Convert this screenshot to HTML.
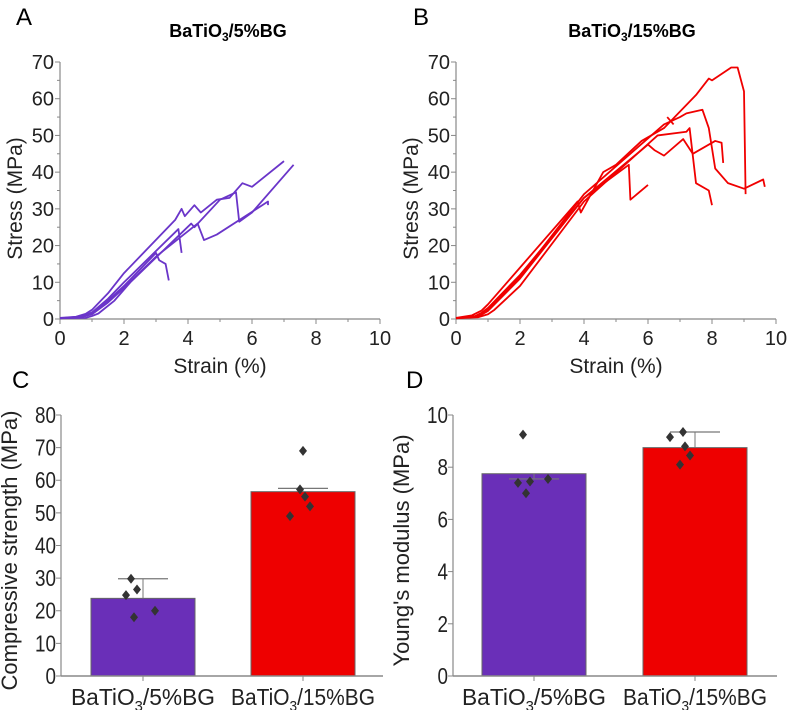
<!DOCTYPE html>
<html><head><meta charset="utf-8"><style>
body{margin:0;background:#fff}
svg{display:block;font-family:"Liberation Sans",sans-serif}
</style></head><body>
<svg id="fig" width="789" height="710" viewBox="0 0 789 710" xmlns="http://www.w3.org/2000/svg">
<text x="16" y="25" font-size="24">A</text>
<text x="413" y="25" font-size="24">B</text>
<text x="12" y="388" font-size="24">C</text>
<text x="406" y="388" font-size="24">D</text>
<text x="228" y="37" font-size="18" font-weight="bold" text-anchor="middle">BaTiO<tspan font-size="12" dy="4">3</tspan><tspan dy="-4">/5%BG</tspan></text>
<text x="632" y="37" font-size="18" font-weight="bold" text-anchor="middle">BaTiO<tspan font-size="12" dy="4">3</tspan><tspan dy="-4">/15%BG</tspan></text>
<g id="g"></g>
</svg>
<script>
// Panel A/B data (strain %, stress MPa)
const curvesA = [
 [[0,0.3],[0.5,0.6],[0.8,1.4],[1,2.5],[1.5,7],[2,12.5],[3.6,27],[3.8,30],[3.9,28],[4.2,31],[4.4,29],[4.9,32.5],[5.3,33],[5.7,37],[6.0,36],[7.0,43]],
 [[0,0.2],[0.6,0.6],[0.8,1.1],[1,1.8],[1.5,5.5],[2,10],[3.7,24.5],[3.8,18]],
 [[0,0.2],[0.6,0.5],[0.8,0.9],[1,1.5],[1.5,5],[2,9],[3.0,18],[3.1,16],[3.3,15],[3.4,10.5]],
 [[0,0.2],[0.6,0.4],[0.8,0.8],[1,1.3],[1.5,4.5],[2,8.5],[3.0,17],[4.3,26],[4.5,21.5],[4.9,23],[6.5,32],[6.5,31]],
 [[0,0.2],[0.8,0.3],[1.0,0.8],[1.2,1.5],[1.7,5],[2.2,10],[4.1,26],[4.2,25],[5.0,32.5],[5.5,34.5],[5.6,26.5],[6.0,29],[7.3,42]]
];
const curvesB = [
 [[0,0.3],[0.5,1],[0.8,2.3],[1,4],[2,14],[3.8,32],[3.9,29],[4.6,40],[5.0,42],[5.8,48.5],[6.5,52],[7.5,61],[7.9,65.5],[8.0,65],[8.6,68.5],[8.8,68.5],[9.0,62],[9.05,34]],
 [[0,0.2],[0.6,0.8],[0.8,1.7],[1,3],[2,12],[4,33],[5.4,42],[5.45,32.5],[6.0,36.5]],
 [[0,0.2],[0.6,0.6],[0.8,1.4],[1,2.5],[2,11.5],[4,34],[6.5,53],[7.0,55],[7.2,56],[7.7,57],[7.9,52],[8.1,41],[8.5,37],[9.0,35.5],[9.6,38],[9.65,36]],
 [[0,0.2],[0.7,0.5],[1.0,1.3],[1.2,2.5],[2,9],[4,32],[6.3,50],[7.2,51],[7.3,52],[7.5,37],[7.9,35],[8.0,31]],
 [[0,0.2],[0.6,0.6],[0.8,1.2],[1,2.2],[2,11],[4,33],[6.0,47.5],[6.2,46],[6.5,44.5],[7.1,49],[7.4,45],[8.1,48.5],[8.3,48],[8.35,42.5]],
 [[6.6,55],[6.8,53]]
];
const xTicks = [0,2,4,6,8,10];
const yTicksAB = [0,10,20,30,40,50,60,70];
// Panel C/D data
const groups = ["5%BG","15%BG"];
const strengthMean = [23.8,56.5];
const strengthErr = [29.8,57.5];
const strengthPts = [[29.8,26.5,24.8,18,20],[69,57.2,55,52,49]];
const modulusMean = [7.75,8.75];
const modulusErr = [7.55,9.35];
const modulusPts = [[9.25,7.4,7.45,7.55,7.0],[9.35,9.15,8.8,8.45,8.1]];
const ptOffsets = [[-12,-6,-17,-9,12],[0,-3,2,7,-13]];
const ptOffsetsD = [[-11,-16,-4,14,-8],[-12,-25,-10,-5,-15]];
const yTicksC = [0,10,20,30,40,50,60,70,80];
const yTicksD = [0,2,4,6,8,10];

const NS="http://www.w3.org/2000/svg", G=document.getElementById('g');
function el(t,a,p){const e=document.createElementNS(NS,t);for(const k in a)e.setAttribute(k,a[k]);(p||G).appendChild(e);return e;}
const AX="#888";

function linePanel(x0,x1,curves,color,name){
 const y0=319,y1=62;
 const sx=v=>x0+(x1-x0)*v/10, sy=v=>y0-(y0-y1)*v/70;
 const a=el('line',{x1:x0,y1:y0,x2:x1,y2:y0,stroke:AX,'stroke-width':1.2});
 
 const b=el('line',{x1:x0,y1:y0,x2:x0,y2:y1,stroke:AX,'stroke-width':1.2});
 
 for(let v=0;v<=10;v++){el('line',{x1:sx(v),y1:y0,x2:sx(v),y2:y0+(v%2?3:5),stroke:AX});}
 for(let v=0;v<=70;v+=5){el('line',{x1:x0,y1:sy(v),x2:x0-(v%10?3:5),y2:sy(v),stroke:AX});}
 xTicks.forEach(v=>{const t=el('text',{x:sx(v),y:y0+26,'font-size':20,'text-anchor':'middle',fill:'#222'});t.textContent=v;
  });
 yTicksAB.forEach(v=>{const t=el('text',{x:x0-6,y:sy(v)+7,'font-size':20,'text-anchor':'end',fill:'#222'});t.textContent=v;
  });
 const xt=el('text',{x:(x0+x1)/2,y:373,'font-size':21,'text-anchor':'middle',fill:'#222'});xt.textContent='Strain (%)';
 
 const yt=el('text',{x:0,y:0,'font-size':21,'text-anchor':'middle',fill:'#222',transform:`translate(${x0-38},${(y0+y1)/2+8}) rotate(-90)`});yt.textContent='Stress (MPa)';
 
 curves.forEach((c,i)=>{const p=el('polyline',{points:c.map(d=>sx(d[0])+','+sy(d[1])).join(' '),fill:'none',stroke:color,'stroke-width':1.8,'stroke-linejoin':'round'});
  });
}
linePanel(60,380,curvesA,'#6a35c9','panel-a');
linePanel(456,776,curvesB,'#f00000','panel-b');

function barPanel(x0,x1,ymax,ticks,means,errs,pts,offs,centers,title,name){
 const y0=676,y1=415;
 const sy=v=>y0-(y0-y1)*v/ymax;
 const colors=['#6a2fb8','#ee0000'];
 centers.forEach((cx,i)=>{
  const r=el('rect',{x:cx-52,y:sy(means[i]),width:104,height:y0-sy(means[i]),fill:colors[i],stroke:'#666','stroke-width':1});
  
  const e1=el('line',{x1:cx,y1:sy(means[i]),x2:cx,y2:sy(errs[i]),stroke:'#777','stroke-width':1});
  
  el('line',{x1:cx-25,y1:sy(errs[i]),x2:cx+25,y2:sy(errs[i]),stroke:'#777','stroke-width':1.2});
  pts[i].forEach((v,j)=>{const px=cx+offs[i][j],py=sy(v);
   const d=el('path',{d:`M${px},${py-5}L${px+4},${py}L${px},${py+5}L${px-4},${py}Z`,fill:'#333'});
   });
  el('line',{x1:cx,y1:y0,x2:cx,y2:y0+5,stroke:AX});
  const t=el('text',{x:cx,y:y0+29,'font-size':23,'text-anchor':'middle',fill:'#222',textLength:144,lengthAdjust:'spacingAndGlyphs'});
  t.innerHTML='BaTiO<tspan font-size="15" dy="6">3</tspan><tspan dy="-6">/'+groups[i]+'</tspan>';
  
 });
 const a=el('line',{x1:x0,y1:y0,x2:x1,y2:y0,stroke:AX,'stroke-width':1.5});
 
 const b=el('line',{x1:x0,y1:y0,x2:x0,y2:y1,stroke:AX,'stroke-width':1.2});
 
 ticks.forEach(v=>{el('line',{x1:x0,y1:sy(v),x2:x0-5,y2:sy(v),stroke:AX});
  const t=el('text',{x:x0-5,y:sy(v)+8,'font-size':23,'text-anchor':'end',fill:'#222',transform:`translate(${x0-5},0) scale(0.82,1) translate(${-(x0-5)},0)`});t.textContent=v;
  });
 const yt=el('text',{x:0,y:0,'font-size':22,'text-anchor':'middle',fill:'#222',transform:`translate(${x0-44},${(y0+y1)/2+5}) rotate(-90)`});yt.textContent=title;
 
}
barPanel(61,383,80,yTicksC,strengthMean,strengthErr,strengthPts,ptOffsets,[143,303],'Compressive strength (MPa)','panel-c');
barPanel(453,777,10,yTicksD,modulusMean,modulusErr,modulusPts,ptOffsetsD,[534,695],"Young's modulus (MPa)",'panel-d');
</script>
</body></html>
